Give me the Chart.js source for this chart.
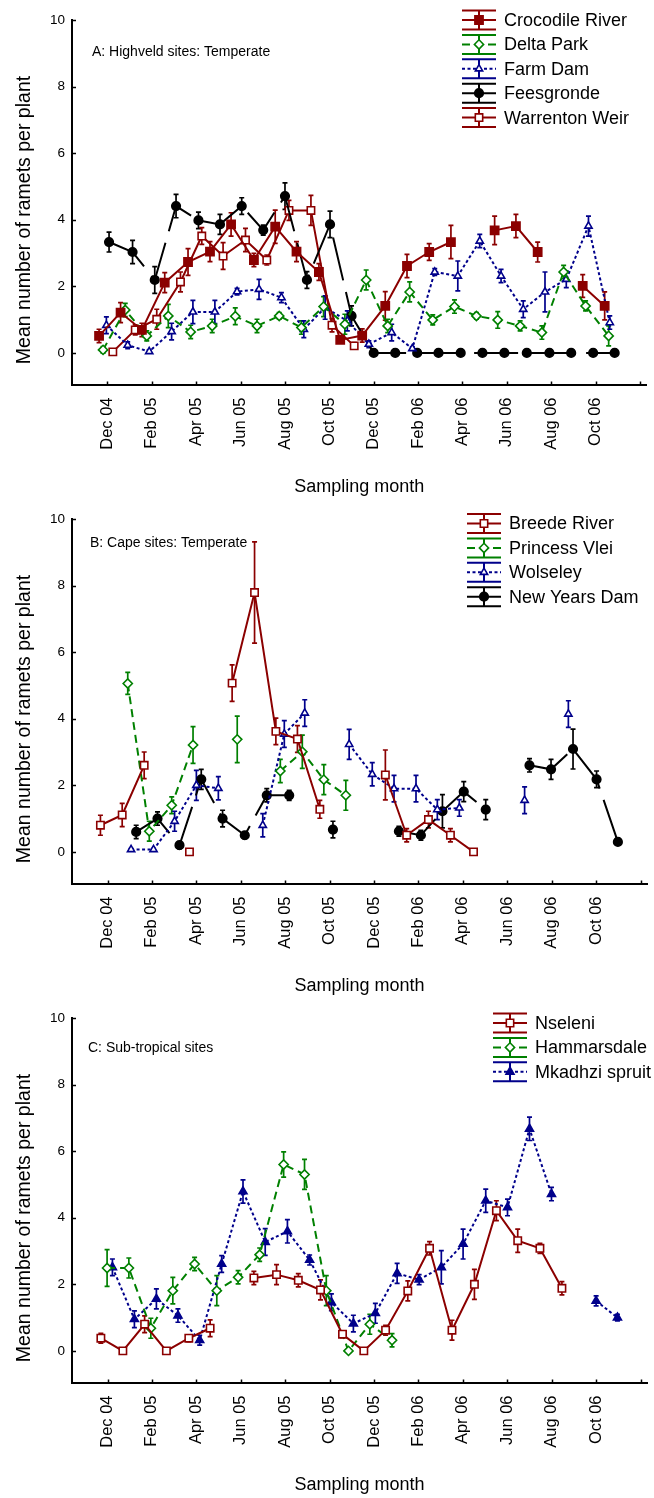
<!DOCTYPE html>
<html>
<head>
<meta charset="utf-8">
<script src="https://cdn.jsdelivr.net/npm/chart.js@4.4.1/dist/chart.umd.min.js"></script>
<style>
  body { margin: 0; background: #fff; width: 654px; }
  canvas { display: block; }
</style>
</head>
<body>
<canvas id="chartA" width="654" height="499"></canvas>
<canvas id="chartB" width="654" height="499"></canvas>
<canvas id="chartC" width="654" height="500"></canvas>
<script>
// months counted from Dec 04 (= 0)
const monthTicks = [0, 2, 4, 6, 8, 10, 12, 14, 16, 18, 20, 22, 24];
const monthLabels = ['Dec 04', 'Feb 05', 'Apr 05', 'Jun 05', 'Aug 05', 'Oct 05',
                     'Dec 05', 'Feb 06', 'Apr 06', 'Jun 06', 'Aug 06', 'Oct 06'];
const yTicks = [0, 2, 4, 6, 8, 10];

// A: Highveld sites
const crocX = [-0.38, 0.59, 1.55, 2.58, 3.63, 4.62, 5.57, 6.6, 7.56, 8.52, 9.53, 10.49, 11.48, 12.52, 13.5, 14.5, 15.48, 16.47, 17.45, 18.41, 19.39, 20.4, 21.42, 22.41];
const crocY = [0.51, 1.21, 0.69, 2.11, 2.73, 3.04, 3.86, 2.79, 3.79, 3.04, 2.43, 0.39, 0.52, 1.41, 2.61, 3.03, 3.33, null, 3.68, 3.81, 3.03, null, 2.01, 1.41];
const crocErr = [0.2, 0.3, 0.2, 0.3, 0.4, 0.3, 0.35, 0.2, 0.5, 0.3, 0.25, 0.1, 0.2, 0.43, 0.35, 0.25, 0.5, null, 0.43, 0.35, 0.3, null, 0.34, 0.42];

const deltaX = [-0.2, 0.8, 1.77, 2.74, 3.75, 4.72, 5.76, 6.74, 7.74, 8.74, 9.74, 10.7, 11.66, 12.63, 13.62, 14.66, 15.64, 16.63, 17.59, 18.6, 19.58, 20.56, 21.55, 22.59];
const deltaY = [0.09, 1.29, 0.51, 1.11, 0.63, 0.81, 1.1, 0.81, 1.11, 0.76, 1.39, 0.86, 2.19, 0.81, 1.83, 0.99, 1.39, 1.11, 0.99, 0.81, 0.61, 2.43, 1.41, 0.51];
const deltaErr = [0.1, 0.2, 0.15, 0.35, 0.2, 0.2, 0.25, 0.2, 0.1, 0.2, 0.3, 0.3, 0.3, 0.2, 0.3, 0.15, 0.2, 0.1, 0.25, 0.15, 0.2, 0.2, 0.15, 0.3];

const farmX = [-0.05, 0.91, 1.88, 2.89, 3.85, 4.84, 5.84, 6.83, 7.84, 8.85, 9.81, 10.81, 11.78, 12.81, 13.74, 14.75, 15.79, 16.78, 17.74, 18.74, 19.72, 20.68, 21.68, 22.64];
const farmY = [0.83, 0.23, 0.04, 0.64, 1.23, 1.23, 1.84, 1.91, 1.66, 0.71, 1.36, 0.96, 0.26, 0.61, 0.13, 2.43, 2.31, 3.36, 2.31, 1.31, 1.83, 2.21, 3.81, 0.91];
const farmErr = [0.25, 0.1, 0.05, 0.25, 0.35, 0.35, 0.1, 0.3, 0.15, 0.25, 0.35, 0.3, 0.1, 0.25, 0.05, 0.1, 0.45, 0.2, 0.2, 0.25, 0.6, 0.25, 0.3, 0.2];

const feesX = [0.07, 1.13, 2.13, 3.09, 4.1, 5.07, 6.05, 7.02, 8.0, 8.99, 10.03, 11.0, 12.0, 12.97, 13.96, 14.92, 15.92, 16.9, 17.89, 18.9, 19.92, 20.9, 21.89, 22.86];
const feesY = [3.33, 3.03, 2.19, 4.41, 3.98, 3.86, 4.41, 3.69, 4.71, 2.19, 3.86, 1.11, 0, 0, 0, 0, 0, 0, 0, 0, 0, 0, 0, 0];
const feesErr = [0.3, 0.35, 0.4, 0.35, 0.25, 0.3, 0.25, 0.15, 0.4, 0.25, 0.4, 0.3, 0, 0, 0, 0, 0, 0, 0, 0, 0, 0, 0, 0];

const warrX = [0.24, 1.25, 2.22, 3.29, 4.25, 5.21, 6.22, 7.18, 8.18, 9.17, 10.12, 11.12];
const warrY = [0.03, 0.69, 1.01, 2.13, 3.51, 2.91, 3.39, 2.79, 4.28, 4.28, 0.83, 0.21];
const warrErr = [0, 0.15, 0.3, 0.3, 0.25, 0.4, 0.35, 0.15, 0.3, 0.45, 0.2, 0.1];

// B: Cape sites
const breedeX = [-0.32, 0.66, 1.65, 2.67, 3.69, 4.65, 5.61, 6.62, 7.58, 8.55, 9.56, 10.55, 11.53, 12.51, 13.47, 14.45, 15.44, 16.48];
const breedeY = [0.8, 1.11, 2.6, null, 0, null, 5.07, 7.79, 3.62, 3.39, 1.28, null, null, 2.31, 0.5, 0.97, 0.5, 0];
const breedeErr = [0.3, 0.35, 0.4, null, 0, null, 0.55, 1.52, 0.4, 0.4, 0.27, null, null, 0.75, 0.2, 0.25, 0.2, 0];

const princessX = [0.91, 1.88, 2.89, 3.85, 4.85, 5.84, 6.8, 7.78, 8.77, 9.74, 10.73];
const princessY = [5.06, 0.62, 1.4, 3.21, null, 3.38, null, 2.43, 3.01, 2.17, 1.7];
const princessErr = [0.33, 0.3, 0.25, 0.55, null, 0.7, null, 0.35, 0.5, 0.45, 0.45];

const wolseleyX = [1.06, 2.07, 3.02, 4.0, 4.99, 6.0, 6.99, 7.96, 8.88, 9.9, 10.88, 11.92, 12.9, 13.89, 14.85, 15.84, 16.8, 17.8, 18.78, 19.8, 20.75];
const wolseleyY = [0.07, 0.07, 0.92, 2.0, 1.91, null, 0.8, 3.54, 4.17, null, 3.23, 2.33, 1.9, 1.9, 1.27, 1.32, null, null, 1.55, null, 4.14];
const wolseleyErr = [0.03, 0.03, 0.3, 0.45, 0.35, null, 0.35, 0.4, 0.4, null, 0.45, 0.35, 0.4, 0.4, 0.3, 0.25, null, null, 0.4, null, 0.4];

const nydX = [1.29, 2.25, 3.24, 4.22, 5.18, 6.18, 7.17, 8.18, 9.17, 10.15, 11.14, 12.13, 13.12, 14.11, 15.08, 16.04, 17.03, 18.0, 19.0, 19.97, 20.96, 22.02, 22.98];
const nydY = [0.6, 1.0, 0.2, 2.18, 1.0, 0.5, 1.7, 1.7, null, 0.67, null, null, 0.62, 0.5, 1.22, 1.81, 1.27, null, 2.6, 2.48, 3.09, 2.18, 0.3];
const nydErr = [0.2, 0.2, 0.1, 0.3, 0.25, 0.1, 0.2, 0.15, null, 0.25, null, null, 0.15, 0.15, 0.5, 0.3, 0.3, null, 0.2, 0.3, 0.6, 0.25, 0.1];

// C: Sub-tropical sites
const nseleniX = [-0.3, 0.69, 1.67, 2.65, 3.66, 4.62, 5.6, 6.59, 7.61, 8.59, 9.59, 10.58, 11.54, 12.52, 13.52, 14.5, 15.51, 16.52, 17.51, 18.47, 19.47, 20.46];
const nseleniY = [0.38, 0, 0.8, 0, 0.38, 0.68, null, 2.19, 2.29, 2.12, 1.83, 0.5, 0, 0.62, 1.8, 3.08, 0.62, 2.0, 4.21, 3.31, 3.08, 1.88];
const nseleniErr = [0.15, 0, 0.25, 0, 0.1, 0.25, null, 0.2, 0.3, 0.2, 0.3, 0.1, 0, 0.15, 0.3, 0.2, 0.3, 0.45, 0.3, 0.35, 0.15, 0.2];

const hammX = [-0.02, 0.96, 1.95, 2.94, 3.92, 4.92, 5.88, 6.85, 7.93, 8.87, 9.85, 10.85, 11.81, 12.81];
const hammY = [2.49, 2.49, 0.68, 1.81, 2.61, 1.81, 2.21, 2.89, 5.6, 5.3, 1.81, 0, 0.8, 0.32];
const hammErr = [0.55, 0.3, 0.3, 0.4, 0.2, 0.45, 0.2, 0.2, 0.38, 0.45, 0.45, 0, 0.3, 0.2];

const mkX = [0.22, 1.21, 2.2, 3.17, 4.15, 5.14, 6.1, 7.1, 8.1, 9.1, 10.08, 11.07, 12.06, 13.04, 14.03, 15.03, 16.01, 17.03, 18.01, 19.0, 19.99, 21.0, 22.0, 22.96];
const mkY = [2.51, 0.95, 1.56, 1.06, 0.32, 2.61, 4.79, 3.27, 3.59, 2.73, 1.46, 0.82, 1.13, 2.33, 2.14, 2.51, 3.21, 4.51, 4.31, 6.67, 4.71, null, 1.5, 1.0];
const mkErr = [0.25, 0.25, 0.3, 0.2, 0.15, 0.25, 0.35, 0.4, 0.35, 0.15, 0.25, 0.25, 0.3, 0.3, 0.15, 0.5, 0.45, 0.35, 0.25, 0.35, 0.2, null, 0.15, 0.1];

const FONT = "'Liberation Sans', Arial, Helvetica, sans-serif";
const RED = '#8b0000', GREEN = '#008000', BLUE = '#00008b', BLACK = '#000000';

const looks = {
  redFilledSquare: { color: RED, marker: 'rect', size: 5.8, filled: true, dash: [] },
  redOpenSquare: { color: RED, marker: 'rect', size: 5.2, filled: false, dash: [] },
  greenDiamond: { color: GREEN, marker: 'rectRot', size: 4.6, filled: false, dash: [8, 5] },
  blueTriangle: { color: BLUE, marker: 'triangle', size: 4.2, filled: false, dash: [3, 2.5] },
  blueFilledTriangle: { color: BLUE, marker: 'triangle', size: 4.6, filled: true, dash: [3, 2.5] },
  blackCircle: { color: BLACK, marker: 'circle', size: 4.3, filled: true, dash: [44, 12] }
};

function makeSeries(label, xs, ys, errs, look) {
  return {
    label: label,
    data: xs.map((x, i) => ({ x: x, y: ys[i] })),
    errors: errs,
    look: look,
    borderColor: look.color,
    borderWidth: 2,
    borderDash: look.dash,
    pointStyle: look.marker,
    pointRadius: look.size,
    pointHoverRadius: look.size,
    pointBorderColor: look.color,
    pointBackgroundColor: look.filled ? look.color : '#ffffff',
    pointBorderWidth: 1.6,
    fill: false,
    tension: 0,
    spanGaps: false
  };
}

function drawMarker(ctx, look, x, y) {
  const r = look.size;
  ctx.save();
  ctx.setLineDash([]);
  ctx.lineWidth = 1.6;
  ctx.strokeStyle = look.color;
  ctx.fillStyle = look.filled ? look.color : '#ffffff';
  ctx.beginPath();
  if (look.marker === 'rect') {
    const s = Math.SQRT1_2 * r;
    ctx.rect(x - s, y - s, 2 * s, 2 * s);
  } else if (look.marker === 'rectRot') {
    ctx.moveTo(x, y - r); ctx.lineTo(x + r, y); ctx.lineTo(x, y + r); ctx.lineTo(x - r, y); ctx.closePath();
  } else if (look.marker === 'triangle') {
    ctx.moveTo(x, y - r); ctx.lineTo(x + r * 0.866, y + r / 2); ctx.lineTo(x - r * 0.866, y + r / 2); ctx.closePath();
  } else {
    ctx.arc(x, y, r, 0, Math.PI * 2);
  }
  ctx.fill();
  ctx.stroke();
  ctx.restore();
}

// vertical error bars drawn under the markers
const errorBars = {
  id: 'errorBars',
  beforeDatasetsDraw(chart) {
    const ctx = chart.ctx, xs = chart.scales.x, ys = chart.scales.y;
    chart.data.datasets.forEach(ds => {
      ctx.save();
      ctx.strokeStyle = ds.borderColor;
      ctx.lineWidth = 1.7;
      ds.data.forEach((p, i) => {
        const e = ds.errors[i];
        if (p.y === null || !e) return;
        const px = xs.getPixelForValue(p.x);
        const top = ys.getPixelForValue(p.y + e);
        const bot = ys.getPixelForValue(p.y - e);
        ctx.beginPath();
        ctx.moveTo(px, top); ctx.lineTo(px, bot);
        ctx.moveTo(px - 2.5, top); ctx.lineTo(px + 2.5, top);
        ctx.moveTo(px - 2.5, bot); ctx.lineTo(px + 2.5, bot);
        ctx.stroke();
      });
      ctx.restore();
    });
  }
};

// ticks, titles, panel label and legend
const decorations = {
  id: 'decorations',
  afterDraw(chart) {
    const ctx = chart.ctx, area = chart.chartArea;
    const xs = chart.scales.x, ys = chart.scales.y;
    const cfg = chart.options.plugins.decorations;
    ctx.save();
    ctx.strokeStyle = '#000';
    ctx.lineWidth = 1.5;
    yTicks.forEach(v => {
      const py = Math.round(ys.getPixelForValue(v)) + 0.5;
      ctx.beginPath(); ctx.moveTo(area.left, py); ctx.lineTo(area.left + 4, py); ctx.stroke();
    });
    monthTicks.forEach(v => {
      const px = Math.round(xs.getPixelForValue(v)) + 0.5;
      ctx.beginPath(); ctx.moveTo(px, area.bottom); ctx.lineTo(px, area.bottom - 3); ctx.stroke();
    });

    ctx.fillStyle = '#000';
    ctx.textBaseline = 'middle';
    ctx.textAlign = 'center';
    ctx.font = '18px ' + FONT;
    ctx.fillText('Sampling month', (area.left + area.right) / 2, 487);
    ctx.save();
    ctx.translate(25, 220);
    ctx.rotate(-Math.PI / 2);
    ctx.font = '19.5px ' + FONT;
    ctx.fillText('Mean number of ramets per plant', 0, 0);
    ctx.restore();

    ctx.textAlign = 'left';
    ctx.font = '14px ' + FONT;
    ctx.fillText(cfg.panel, cfg.panelX, cfg.panelY);

    ctx.font = '18px ' + FONT;
    chart.data.datasets.forEach((ds, i) => {
      const look = ds.look;
      const y = cfg.legendY + i * 24.4;
      const x0 = cfg.legendX, w = 34, cx = x0 + w / 2;
      ctx.strokeStyle = look.color;
      ctx.lineWidth = 2;
      ctx.setLineDash([]);
      ctx.beginPath();
      ctx.moveTo(x0, y - 9.5); ctx.lineTo(x0 + w, y - 9.5);
      ctx.moveTo(x0, y + 9.5); ctx.lineTo(x0 + w, y + 9.5);
      ctx.moveTo(cx, y - 9.5); ctx.lineTo(cx, y + 9.5);
      ctx.stroke();
      ctx.setLineDash(look.dash);
      ctx.beginPath(); ctx.moveTo(x0, y); ctx.lineTo(x0 + w, y); ctx.stroke();
      ctx.setLineDash([]);
      drawMarker(ctx, look, cx, y);
      ctx.fillStyle = '#000';
      ctx.fillText(ds.label, x0 + w + 8, y + 1);
    });
    ctx.restore();
  }
};

function makeChart(id, datasets, deco) {
  const canvas = document.getElementById(id);
  return new Chart(canvas, {
    type: 'line',
    data: { datasets: datasets },
    plugins: [errorBars, decorations],
    options: {
      responsive: false,
      animation: false,
      events: [],
      layout: { padding: { top: 20, left: 0, right: 0, bottom: 0 } },
      plugins: {
        legend: { display: false },
        tooltip: { enabled: false },
        decorations: deco
      },
      scales: {
        x: {
          type: 'linear',
          min: -1.6,
          max: 24.3,
          afterBuildTicks: s => { s.ticks = monthTicks.slice(0, monthLabels.length).map(v => ({ value: v })); },
          afterFit: s => { s.height = canvas.height - 384.5; },
          grid: { display: false, drawTicks: false },
          border: { display: true, color: '#000', width: 2 },
          ticks: {
            autoSkip: false,
            maxRotation: 90,
            minRotation: 90,
            padding: 13,
            color: '#000',
            font: { family: FONT, size: 16.5 },
            callback: v => monthLabels[monthTicks.indexOf(v)]
          }
        },
        y: {
          min: -0.95,
          max: 10,
          afterBuildTicks: s => { s.ticks = yTicks.map(v => ({ value: v })); },
          afterFit: s => { s.width = 72; },
          grid: { display: false, drawTicks: false },
          border: { display: true, color: '#000', width: 2 },
          ticks: {
            padding: 7,
            color: '#000',
            font: { family: FONT, size: 13.5 }
          }
        }
      }
    }
  });
}

makeChart('chartA', [
  makeSeries('Crocodile River', crocX, crocY, crocErr, looks.redFilledSquare),
  makeSeries('Delta Park', deltaX, deltaY, deltaErr, looks.greenDiamond),
  makeSeries('Farm Dam', farmX, farmY, farmErr, looks.blueTriangle),
  makeSeries('Feesgronde', feesX, feesY, feesErr, looks.blackCircle),
  makeSeries('Warrenton Weir', warrX, warrY, warrErr, looks.redOpenSquare)
], { panel: 'A: Highveld sites: Temperate', panelX: 92, panelY: 52, legendX: 462, legendY: 20 });

makeChart('chartB', [
  makeSeries('Breede River', breedeX, breedeY, breedeErr, looks.redOpenSquare),
  makeSeries('Princess Vlei', princessX, princessY, princessErr, looks.greenDiamond),
  makeSeries('Wolseley', wolseleyX, wolseleyY, wolseleyErr, looks.blueTriangle),
  makeSeries('New Years Dam', nydX, nydY, nydErr, looks.blackCircle)
], { panel: 'B: Cape sites: Temperate', panelX: 90, panelY: 44, legendX: 467, legendY: 24.5 });

makeChart('chartC', [
  makeSeries('Nseleni', nseleniX, nseleniY, nseleniErr, looks.redOpenSquare),
  makeSeries('Hammarsdale', hammX, hammY, hammErr, looks.greenDiamond),
  makeSeries('Mkadhzi spruit', mkX, mkY, mkErr, looks.blueFilledTriangle)
], { panel: 'C: Sub-tropical sites', panelX: 88, panelY: 50, legendX: 493, legendY: 25 });
</script>
</body>
</html>
